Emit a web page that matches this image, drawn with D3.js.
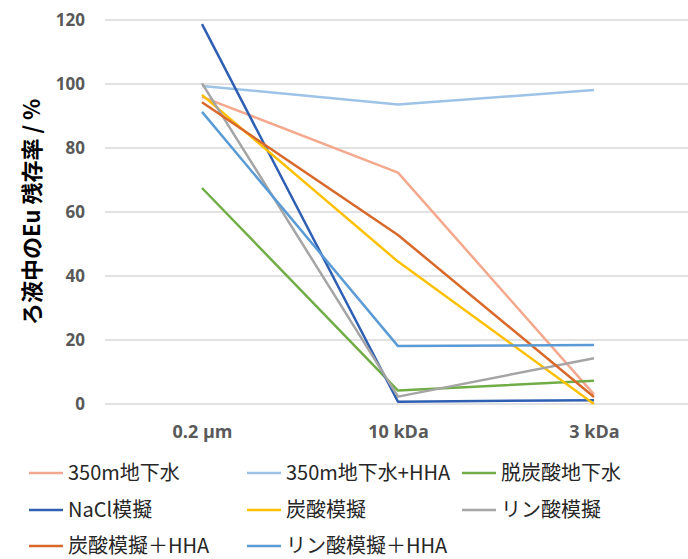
<!DOCTYPE html>
<html>
<head>
<meta charset="utf-8">
<script src="https://cdn.jsdelivr.net/npm/d3@7"></script>
<style>
  html, body { margin: 0; padding: 0; background: #fff; }
  svg { display: block; }
</style>
</head>
<body>
<svg id="chart" width="688" height="559"></svg>
<script>
// Filtration stages (x categories)
const categories = ["0.2 µm", "10 kDa", "3 kDa"];
const yTicks = [0, 20, 40, 60, 80, 100, 120];

// Eu remaining in filtrate (%) per solution
const seriesNames = [
  "350m地下水", "350m地下水+HHA", "脱炭酸地下水",
  "NaCl模擬", "炭酸模擬", "リン酸模擬",
  "炭酸模擬＋HHA", "リン酸模擬＋HHA"
];
const gw350       = [96.0, 72.3, 3.0];
const gw350HHA    = [99.4, 93.6, 98.1];
const decarbGW    = [67.5, 4.2, 7.3];
const naclSim     = [118.7, 0.7, 1.2];
const carbSim     = [96.6, 44.5, 0.0];
const phosSim     = [100.2, 2.3, 14.3];
const carbSimHHA  = [94.3, 52.8, 2.2];
const phosSimHHA  = [91.3, 18.1, 18.4];
const seriesValues = [gw350, gw350HHA, decarbGW, naclSim, carbSim, phosSim, carbSimHHA, phosSimHHA];
const seriesColors = ["#F4A98E", "#9DC3E6", "#70AD47", "#2F5FB3", "#FFC000", "#A5A5A5", "#D9692A", "#5B9BD5"];

const svg = d3.select("#chart");
const latin = "'Open Sans', 'Noto Sans CJK JP', sans-serif";
const jp = "'Noto Sans CJK JP', 'Noto Sans', sans-serif";

const x = d3.scalePoint().domain(categories).range([202, 594]);
const y = d3.scaleLinear().domain([0, 120]).range([404, 20]);

// Horizontal gridlines
svg.append("g")
  .selectAll("line")
  .data(yTicks)
  .join("line")
  .attr("x1", 105).attr("x2", 688)
  .attr("y1", d => y(d)).attr("y2", d => y(d))
  .attr("stroke", "#D9D9D9").attr("stroke-width", 1.3);

// Y axis tick labels
const yAxis = svg.append("g")
  .attr("transform", "translate(85,0)")
  .call(d3.axisLeft(y).tickValues(yTicks).tickSize(0).tickPadding(0));
yAxis.select(".domain").remove();
yAxis.selectAll("text")
  .attr("font-family", latin).attr("font-size", 17).attr("font-weight", "bold")
  .attr("fill", "#595959").attr("dy", "0.35em");

// X axis tick labels
const xAxis = svg.append("g")
  .attr("transform", "translate(0,425)")
  .call(d3.axisBottom(x).tickSize(0).tickPadding(0));
xAxis.select(".domain").remove();
xAxis.selectAll("text")
  .attr("font-family", latin).attr("font-size", 18).attr("font-weight", "bold")
  .attr("fill", "#595959").attr("dy", "0.71em");

// Y axis title
svg.append("text")
  .attr("transform", "translate(40,212) rotate(-90)")
  .attr("text-anchor", "middle")
  .attr("font-family", jp).attr("font-size", 22).attr("font-weight", "bold")
  .attr("fill", "#000")
  .text("ろ液中のEu 残存率 / %");

// Series lines
const line = d3.line()
  .x((d, i) => x(categories[i]))
  .y(d => y(d));

svg.append("g")
  .selectAll("path")
  .data(seriesValues)
  .join("path")
  .attr("d", d => line(d))
  .attr("fill", "none")
  .attr("stroke", (d, i) => seriesColors[i])
  .attr("stroke-width", 2.5)
  .attr("stroke-linejoin", "round");

// Legend
const legendCols = [29, 247, 462];
const legendRows = [473, 510, 546];
const legend = svg.append("g")
  .selectAll("g")
  .data(seriesNames)
  .join("g")
  .attr("transform", (d, i) => `translate(${legendCols[i % 3]},${legendRows[Math.floor(i / 3)]})`);

legend.append("line")
  .attr("x1", 0).attr("x2", 34).attr("y1", 0).attr("y2", 0)
  .attr("stroke", (d, i) => seriesColors[i]).attr("stroke-width", 2.5);

legend.append("text")
  .attr("x", 39).attr("y", 0).attr("dy", "0.35em")
  .attr("font-family", jp).attr("font-size", 20)
  .attr("fill", "#262626")
  .text(d => d);
</script>
</body>
</html>
